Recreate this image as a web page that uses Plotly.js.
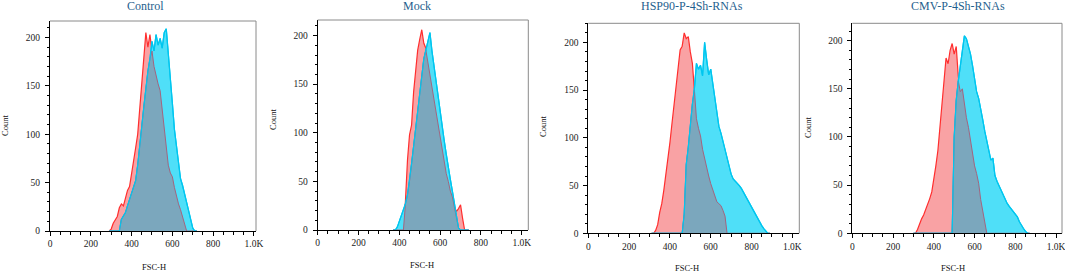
<!DOCTYPE html>
<html>
<head>
<meta charset="utf-8">
<script src="https://cdn.plot.ly/plotly-3.0.1.min.js"></script>
<style>
  html, body { margin: 0; padding: 0; background: #ffffff; }
  #chart { width: 1065px; height: 274px; }
</style>
</head>
<body>
<div id="chart"></div>
<script>
// ---------- DATA ----------
const panelTitles = ["Control", "Mock", "HSP90-P-4Sh-RNAs", "CMV-P-4Sh-RNAs"];
const xAxisTitle = "FSC-H";
const yAxisTitle = "Count";
const xTickVals = [0, 200, 400, 600, 800, 1000];
const xTickText = ["0", "200", "400", "600", "800", "1.0K"];
const yTickVals = [0, 50, 100, 150, 200];

// Panel 1: Control
const controlFSC  = [290,300,310,320,330,340,350,360,370,380,390,400,410,420,430,440,450,460,470,480,490,500,510,520,530,540,550,560,570,580,590,600,610,620,630,640,650,660,670,680,690,700,710,720];
const controlRed  = [0,2,8,12,15,24,28,26,35,42,46,58,70,86,100,125,150,172,205,190,203,186,170,160,152,145,125,102,86,68,60,56,45,36,28,22,14,6,0,0,0,0,0,0];
const controlCyan = [0,0,0,0,0,0,12,16,19,26,33,40,46,52,68,85,108,128,148,165,178,196,186,203,192,199,189,205,209,180,160,132,105,86,66,54,47,38,28,20,10,3,0,0];

// Panel 2: Mock
const mockFSC  = [370,380,390,400,410,420,430,440,450,460,470,480,490,500,510,520,530,540,550,560,570,580,590,600,610,620,630,640,650,660,670,680,690,700,710,720,730,740];
const mockRed  = [0,0,0,0,0,0,30,72,98,108,142,165,185,196,206,192,187,172,160,148,133,120,109,95,85,70,58,50,40,34,24,19,22,26,12,0,0,0];
const mockCyan = [0,0,3,9,13,19,27,36,50,68,86,104,122,140,158,176,185,195,203,184,168,155,140,122,106,92,78,67,52,40,26,12,2,0,0,0,0,0];

// Panel 3: HSP90-P-4Sh-RNAs
const hspFSC  = [310,320,330,340,350,360,370,380,390,400,410,420,430,440,450,460,470,480,490,500,510,520,530,540,550,560,570,580,590,600,610,620,630,640,650,660,670,680,690,700,710,720,730,740,750,760,770,780,790,800,810,820,830,840,850,860,870,880,890];
const hspRed  = [0,0,3,9,22,31,45,60,75,95,115,134,150,170,192,196,210,204,206,190,178,150,120,110,102,88,78,70,60,52,46,38,33,31,29,24,18,0,0,0,0,0,0,0,0,0,0,0,0,0,0,0,0,0,0,0,0,0,0];
const hspCyan = [0,0,0,0,0,0,0,0,0,0,0,0,0,0,0,0,20,72,90,115,135,152,178,172,176,165,200,182,166,172,158,145,130,112,105,96,86,78,70,62,57,55,52,50,47,43,40,35,31,27,23,19,15,12,8,5,2,0,0];

// Panel 4: CMV-P-4Sh-RNAs
const cmvFSC  = [300,310,320,330,340,350,360,370,380,390,400,410,420,430,440,450,460,470,480,490,500,510,520,530,540,550,560,570,580,590,600,610,620,630,640,650,660,670,680,690,700,710,720,730,740,750,760,770,780,790,800,810,820,830,840,850,860,870];
const cmvRed  = [0,0,4,10,15,19,24,30,36,43,55,70,86,112,135,158,182,176,190,197,186,194,163,147,150,132,120,110,96,83,70,62,52,35,24,12,0,0,0,0,0,0,0,0,0,0,0,0,0,0,0,0,0,0,0,0,0,0];
const cmvCyan = [0,0,0,0,0,0,0,0,0,0,0,0,0,0,0,0,0,0,0,0,100,138,158,174,188,205,202,195,186,174,160,147,140,130,118,106,96,86,76,78,60,54,49,44,40,36,31,28,25,22,20,17,12,8,5,2,0,0];

const panelX    = [controlFSC, mockFSC, hspFSC, cmvFSC];
const panelRed  = [controlRed, mockRed, hspRed, cmvRed];
const panelCyan = [controlCyan, mockCyan, hspCyan, cmvCyan];

// ---------- LAYOUT (pixel geometry of each panel) ----------
const W = 1065, H = 274;
const geo = [
  {l: 50,    r: 256,  t: 21,   b: 231,   xmax: 1010, ymax: 217, title: [145, 6], count: [5, 126],   fsc: [154, 267]},
  {l: 317.7, r: 528.3,t: 20,   b: 230,   xmax: 1032, ymax: 216, title: [417, 6], count: [273, 120], fsc: [422, 265]},
  {l: 588.3, r: 799.3,t: 23.3, b: 233.3, xmax: 1034, ymax: 220, title: [692, 6], count: [543, 127], fsc: [687, 268]},
  {l: 852.3, r: 1062, t: 23.3, b: 233.3, xmax: 1029, ymax: 218, title: [958, 6], count: [808, 128], fsc: [953, 268]}
];

const redLine = "#ff2e2e", redFill = "#f9a2a4";
const cyanLine = "#00c6ef", cyanFill = "#4fdff8";
const overlapFill = "#7ba7bd", overlapLine = "#a2657f";
const serif = "Liberation Serif, Times New Roman, serif";

const traces = [];
const layout = {
  width: W, height: H,
  margin: {l: 0, r: 0, t: 0, b: 0},
  paper_bgcolor: "#ffffff", plot_bgcolor: "#ffffff",
  showlegend: false,
  annotations: [],
  shapes: []
};

for (let i = 0; i < 4; i++) {
  const n = i + 1;
  const xa = n === 1 ? "x" : "x" + n;
  const ya = n === 1 ? "y" : "y" + n;
  const xs = panelX[i], red = panelRed[i], cyan = panelCyan[i];
  const overlap = red.map((v, k) => Math.min(v, cyan[k]));

  traces.push({x: xs, y: red, xaxis: xa, yaxis: ya, type: "scatter", mode: "lines",
    fill: "tozeroy", fillcolor: redFill, line: {color: redLine, width: 1.2}, hoverinfo: "skip"});
  traces.push({x: xs, y: cyan, xaxis: xa, yaxis: ya, type: "scatter", mode: "lines",
    fill: "tozeroy", fillcolor: cyanFill, line: {color: cyanLine, width: 1.2}, hoverinfo: "skip"});
  traces.push({x: xs, y: overlap, xaxis: xa, yaxis: ya, type: "scatter", mode: "lines",
    fill: "tozeroy", fillcolor: overlapFill, line: {color: overlapLine, width: 1}, hoverinfo: "skip"});
  traces.push({x: xs, y: cyan, xaxis: xa, yaxis: ya, type: "scatter", mode: "lines",
    line: {color: cyanLine, width: 1.2}, hoverinfo: "skip"});

  const g = geo[i];
  const xkey = n === 1 ? "xaxis" : "xaxis" + n;
  const ykey = n === 1 ? "yaxis" : "yaxis" + n;
  layout[xkey] = {
    domain: [g.l / W, g.r / W], anchor: ya, range: [0, g.xmax],
    showgrid: false, zeroline: false, showline: true, linecolor: "#000", linewidth: 1,
    ticks: "outside", ticklen: 4, tickwidth: 1, tickcolor: "#000",
    tickvals: xTickVals, ticktext: xTickText, ticklabeloverflow: "allow",
    tickfont: {family: serif, size: 9.5, color: "#222"},
    minor: {dtick: 50, tick0: 0, ticks: "outside", ticklen: 2.5, tickcolor: "#000", showgrid: false},
    fixedrange: true
  };
  layout[ykey] = {
    domain: [1 - g.b / H, 1 - g.t / H], anchor: xa, range: [0, g.ymax],
    showgrid: false, zeroline: false, showline: true, linecolor: "#000", linewidth: 1,
    ticks: "outside", ticklen: 4, tickwidth: 1, tickcolor: "#000",
    tickvals: yTickVals, ticklabelstandoff: 3, ticklabeloverflow: "allow",
    tickfont: {family: serif, size: 9.5, color: "#222"},
    minor: {dtick: 10, tick0: 0, ticks: "outside", ticklen: 2, tickcolor: "#000", showgrid: false},
    fixedrange: true
  };
  // top and right frame lines
  layout.shapes.push({type: "line", xref: xa + " domain", yref: ya + " domain", x0: 0, x1: 1, y0: 1, y1: 1,
    line: {color: "#8a8a8a", width: 1}});
  layout.shapes.push({type: "line", xref: xa + " domain", yref: ya + " domain", x0: 1, x1: 1, y0: 0, y1: 1,
    line: {color: "#8a8a8a", width: 1}});

  layout.annotations.push({text: panelTitles[i], xref: "paper", yref: "paper",
    x: g.title[0] / W, y: 1 - g.title[1] / H, xanchor: "center", yanchor: "middle", showarrow: false,
    font: {family: serif, size: 12, color: "#1f5f8e"}});
  layout.annotations.push({text: yAxisTitle, xref: "paper", yref: "paper", textangle: -90,
    x: g.count[0] / W, y: 1 - g.count[1] / H, xanchor: "center", yanchor: "middle", showarrow: false,
    font: {family: serif, size: 8.5, color: "#111"}});
  layout.annotations.push({text: xAxisTitle, xref: "paper", yref: "paper",
    x: g.fsc[0] / W, y: 1 - g.fsc[1] / H, xanchor: "center", yanchor: "middle", showarrow: false,
    font: {family: serif, size: 8.5, color: "#111"}});
}

Plotly.newPlot("chart", traces, layout, {staticPlot: true, displayModeBar: false});
</script>
</body>
</html>
